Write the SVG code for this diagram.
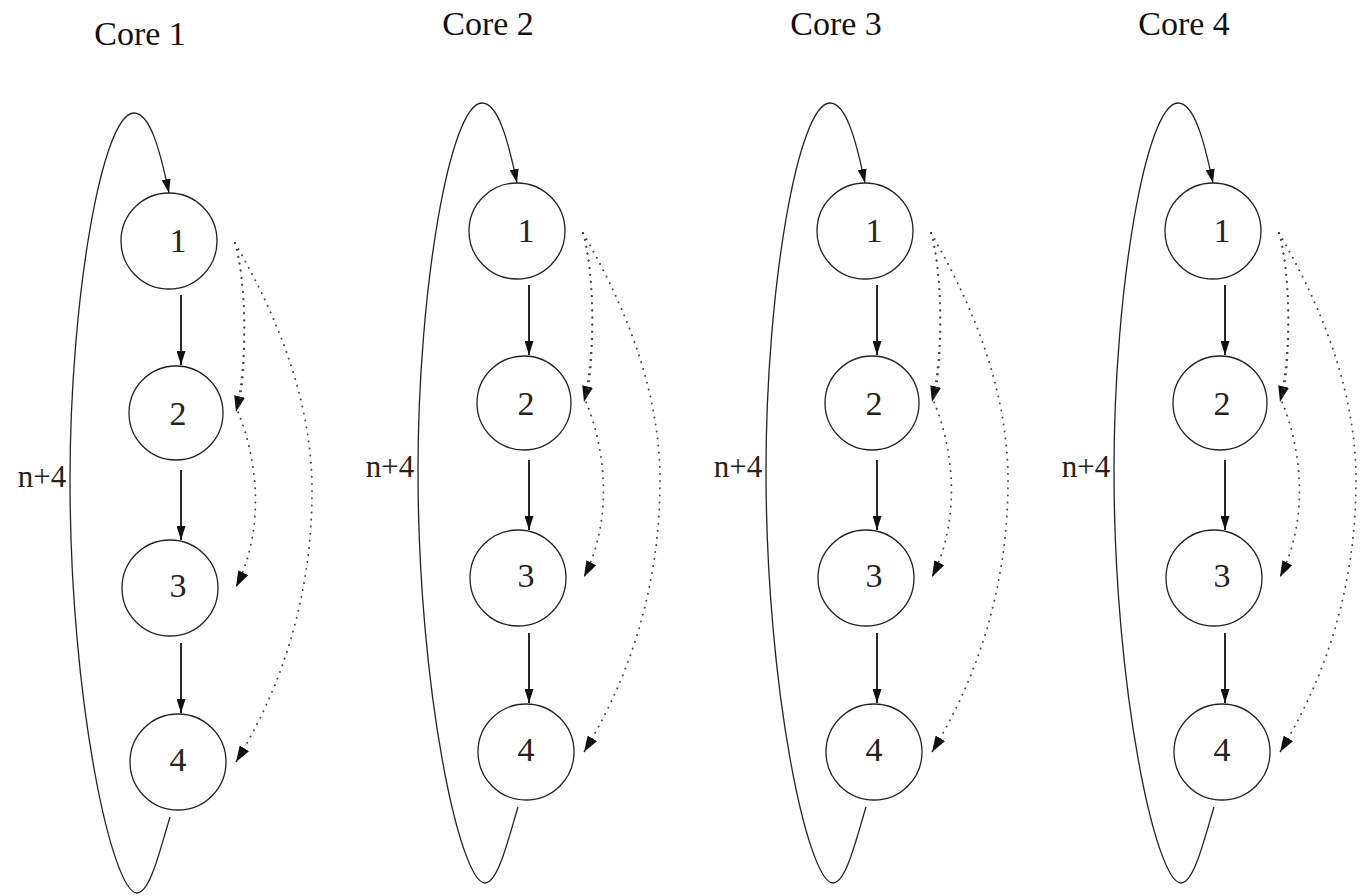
<svg xmlns="http://www.w3.org/2000/svg" width="1366" height="896" viewBox="0 0 1366 896">
<style>
.node{fill:#fff;stroke:#222;stroke-width:1.3}
.lbl{font-family:"Liberation Serif","Times New Roman",serif;font-size:34px;fill:#222;text-anchor:middle}
.title{font-family:"Liberation Serif","Times New Roman",serif;font-size:34px;fill:#111;text-anchor:middle}
.solid{fill:none;stroke:#111;stroke-width:1.8;marker-end:url(#ah)}
.loop{fill:none;stroke:#222;stroke-width:1.3;marker-end:url(#ah)}
.dot{fill:none;stroke:#444;stroke-width:1.9;stroke-dasharray:0.1 7;stroke-linecap:round;marker-end:url(#dh)}
</style>
<defs>
<marker id="ah" markerUnits="userSpaceOnUse" viewBox="0 0 14 9" refX="14" refY="4.5" markerWidth="14" markerHeight="9" orient="auto"><path d="M0,0 L14,4.5 L0,9 z" fill="#111"/></marker>
<marker id="dh" markerUnits="userSpaceOnUse" viewBox="0 0 16 11" refX="16" refY="5.5" markerWidth="16" markerHeight="11" orient="auto"><path d="M0,0 L16,5.5 L0,11 z" fill="#111"/></marker>
<g id="coreBody">
<g class="connectors">
<path class="loop" d="M170,817 C160,850 150,893 137,893 C112,893 70,700 70,480 C70,300 102,113 134,113 C150,113 160,150 169,193"/>
<path class="solid" d="M181,295 L181,365"/>
<path class="solid" d="M181,470 L181,540"/>
<path class="solid" d="M181,643 L181,713"/>
<path class="dot" d="M235,243 C246,280 248,360 236,412"/>
<path class="dot" d="M235,243 C246,280 248,360 238,412 C258,460 265,530 236,587"/>
<path class="dot" d="M235,243 C268,300 312,390 312,490 C312,600 280,690 236,762"/>
</g>
<text class="lbl" x="42" y="487" style="font-size:31px">n+4</text>
</g>
</defs>

<g id="core1">
<text class="title" x="140" y="45">Core 1</text>
<use href="#coreBody"/>
<g id="c1n1"><circle class="node" cx="169" cy="241" r="48"/><text class="lbl" x="178" y="252">1</text></g>
<g id="c1n2"><circle class="node" cx="176" cy="413" r="47"/><text class="lbl" x="178" y="425">2</text></g>
<g id="c1n3"><circle class="node" cx="170" cy="588" r="48"/><text class="lbl" x="178" y="597">3</text></g>
<g id="c1n4"><circle class="node" cx="178" cy="762" r="48"/><text class="lbl" x="178" y="771">4</text></g>
</g>

<g id="core2" transform="translate(348,-10)">
<text class="title" x="140" y="45">Core 2</text>
<use href="#coreBody"/>
<g id="c2n1"><circle class="node" cx="169" cy="241" r="48"/><text class="lbl" x="178" y="252">1</text></g>
<g id="c2n2"><circle class="node" cx="176" cy="413" r="47"/><text class="lbl" x="178" y="425">2</text></g>
<g id="c2n3"><circle class="node" cx="170" cy="588" r="48"/><text class="lbl" x="178" y="597">3</text></g>
<g id="c2n4"><circle class="node" cx="178" cy="762" r="48"/><text class="lbl" x="178" y="771">4</text></g>
</g>

<g id="core3" transform="translate(696,-10)">
<text class="title" x="140" y="45">Core 3</text>
<use href="#coreBody"/>
<g id="c3n1"><circle class="node" cx="169" cy="241" r="48"/><text class="lbl" x="178" y="252">1</text></g>
<g id="c3n2"><circle class="node" cx="176" cy="413" r="47"/><text class="lbl" x="178" y="425">2</text></g>
<g id="c3n3"><circle class="node" cx="170" cy="588" r="48"/><text class="lbl" x="178" y="597">3</text></g>
<g id="c3n4"><circle class="node" cx="178" cy="762" r="48"/><text class="lbl" x="178" y="771">4</text></g>
</g>

<g id="core4" transform="translate(1044,-10)">
<text class="title" x="140" y="45">Core 4</text>
<use href="#coreBody"/>
<g id="c4n1"><circle class="node" cx="169" cy="241" r="48"/><text class="lbl" x="178" y="252">1</text></g>
<g id="c4n2"><circle class="node" cx="176" cy="413" r="47"/><text class="lbl" x="178" y="425">2</text></g>
<g id="c4n3"><circle class="node" cx="170" cy="588" r="48"/><text class="lbl" x="178" y="597">3</text></g>
<g id="c4n4"><circle class="node" cx="178" cy="762" r="48"/><text class="lbl" x="178" y="771">4</text></g>
</g>
</svg>
